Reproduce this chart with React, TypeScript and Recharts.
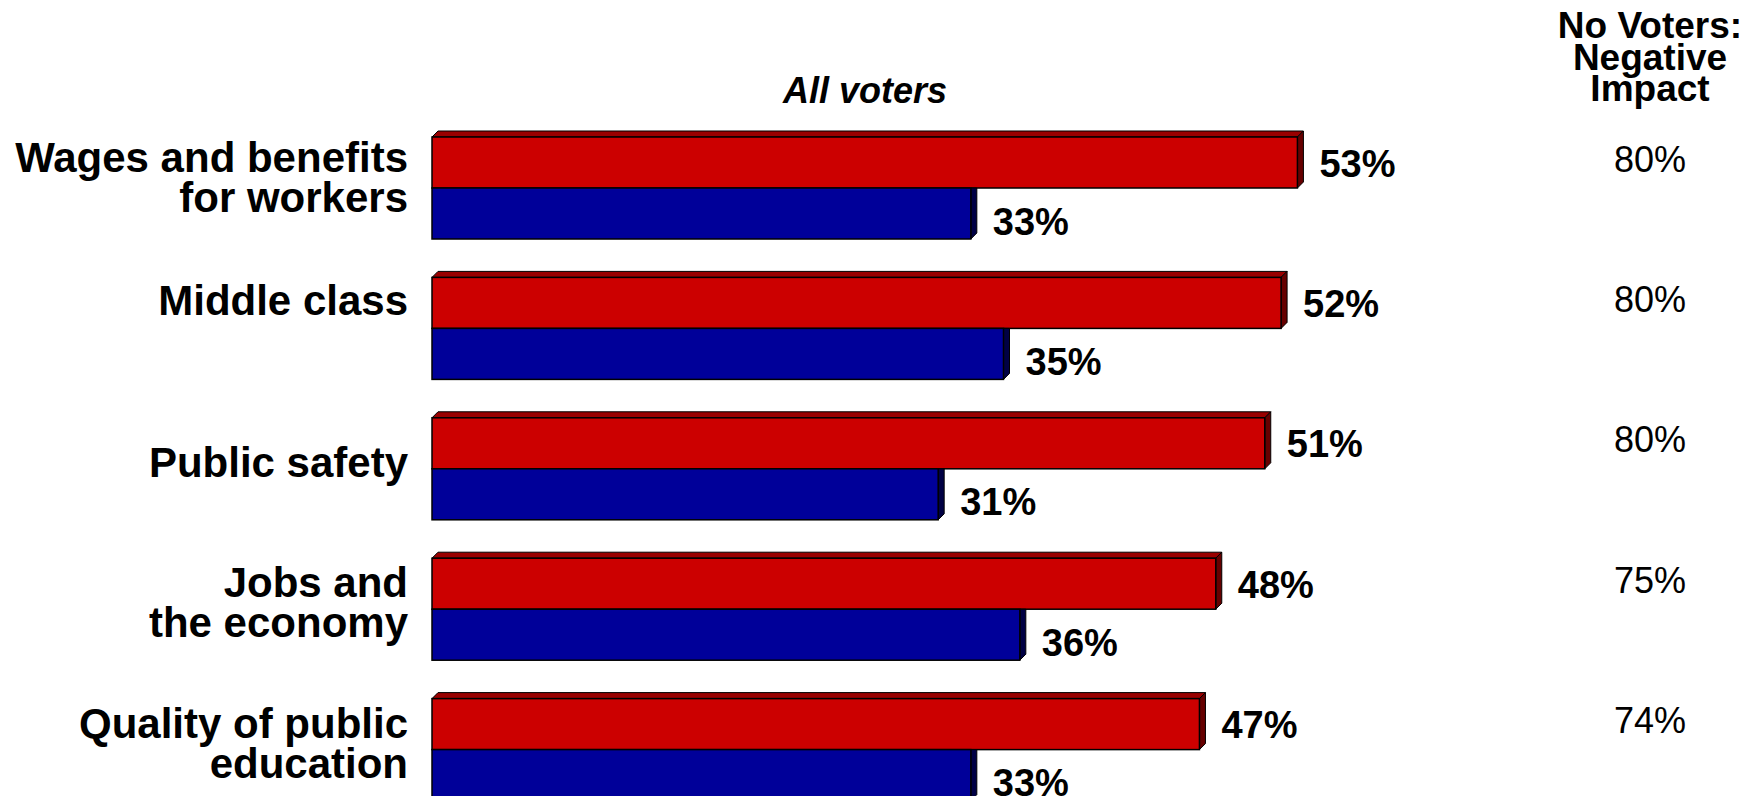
import { BarChart, Bar, XAxis, YAxis, LabelList, Customized } from 'recharts'

const categories = [
  'Wages and benefits\nfor workers',
  'Middle class',
  'Public safety',
  'Jobs and\nthe economy',
  'Quality of public\neducation',
]
const negativeImpact = [53, 52, 51, 48, 47]
const positiveImpact = [33, 35, 31, 36, 33]
const noVotersNegative = [80, 80, 80, 75, 74]

const data = categories.map((category, i) => ({
  category,
  negative: negativeImpact[i],
  positive: positiveImpact[i],
  noVoters: noVotersNegative[i],
}))

const FONT = '"Liberation Sans", Arial, sans-serif'
const DEPTH = 6

// first line baseline offset from band centre, per row
const tickShift = [-16, -14, 8, -12, -12]

function CategoryTick({ y, payload, index }: any) {
  const lines = String(payload.value).split('\n')
  const base = y + (tickShift[index] ?? 0)
  return (
    <text x={408} y={base} textAnchor="end" fontFamily={FONT} fontWeight="bold" fontSize={42} fill="#000">
      {lines.map((l, i) => (
        <tspan key={i} x={408} y={base + i * 40}>{l}</tspan>
      ))}
    </text>
  )
}

function RedBar({ x, y, width, height }: any) {
  const r = x + width
  return (
    <g>
      <polygon points={`${x},${y} ${x + DEPTH},${y - DEPTH} ${r + DEPTH},${y - DEPTH} ${r},${y}`} fill="#990000" stroke="#000" strokeWidth={1} />
      <polygon points={`${r},${y} ${r + DEPTH},${y - DEPTH} ${r + DEPTH},${y + height - DEPTH} ${r},${y + height}`} fill="#660000" stroke="#000" strokeWidth={1} />
      <rect x={x} y={y} width={width} height={height} fill="#CC0000" stroke="#000" strokeWidth={1.5} />
    </g>
  )
}

function BlueBar({ x, y, width, height }: any) {
  const r = x + width
  return (
    <g>
      <polygon points={`${r},${y} ${r + DEPTH},${y} ${r + DEPTH},${y + height - DEPTH} ${r},${y + height}`} fill="#000044" stroke="#000" strokeWidth={1} />
      <rect x={x} y={y} width={width} height={height} fill="#000099" stroke="#000" strokeWidth={1.5} />
    </g>
  )
}

const valueLabel = (shift: number) => ({ x, y, width, height, value }: any) => (
  <text x={Number(x) + Number(width) + 22} y={Number(y) + Number(height) / 2 + shift} fontFamily={FONT} fontWeight="bold" fontSize={38} fill="#000">
    {value}%
  </text>
)

const noVotersLabel = ({ y, height, value }: any) => (
  <text x={1650} y={Number(y) + Number(height) / 2 + 9} textAnchor="middle" fontFamily={FONT} fontSize={36} fill="#000">
    {value}%
  </text>
)

function Headers() {
  return (
    <g fontFamily={FONT} fill="#000">
      <text x={865} y={103} textAnchor="middle" fontWeight="bold" fontStyle="italic" fontSize={36}>All voters</text>
      <text x={1650} textAnchor="middle" fontWeight="bold" fontSize={37}>
        <tspan x={1650} y={38}>No Voters:</tspan>
        <tspan x={1650} y={70}>Negative</tspan>
        <tspan x={1650} y={101}>Impact</tspan>
      </text>
    </g>
  )
}

export default function App() {
  return (
    <div style={{ position: 'absolute', left: 0, top: 0, width: 1760, height: 796, overflow: 'hidden', background: '#fff' }}>
      <BarChart
        width={1760}
        height={830}
        data={data}
        layout="vertical"
        margin={{ top: 118, right: 185, bottom: 10, left: 0 }}
        barGap={0}
        barSize={51}
      >
        <XAxis type="number" domain={[0, 70]} hide />
        <YAxis type="category" dataKey="category" width={432} axisLine={false} tickLine={false} interval={0} tick={<CategoryTick />} />
        <Bar dataKey="negative" shape={<RedBar />} isAnimationActive={false}>
          <LabelList dataKey="negative" content={valueLabel(14)} />
          <LabelList dataKey="noVoters" content={noVotersLabel} />
        </Bar>
        <Bar dataKey="positive" shape={<BlueBar />} isAnimationActive={false}>
          <LabelList dataKey="positive" content={valueLabel(21)} />
        </Bar>
        <Customized component={Headers} />
      </BarChart>
    </div>
  )
}
